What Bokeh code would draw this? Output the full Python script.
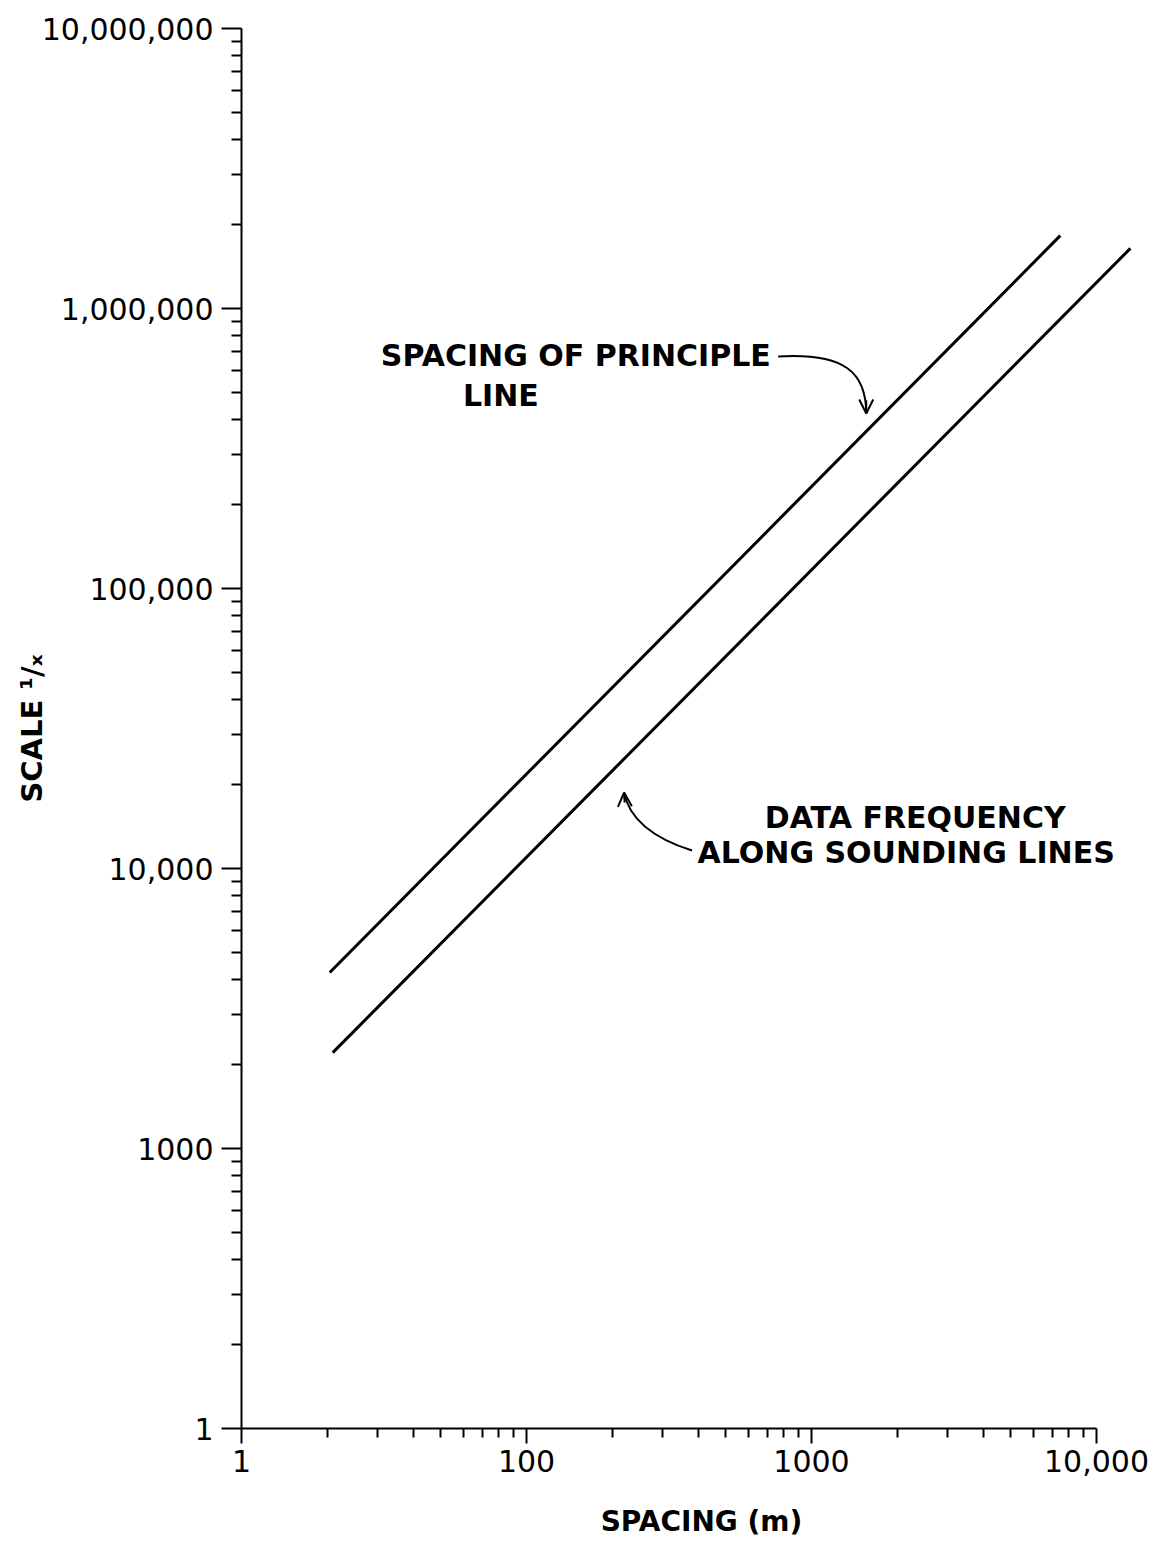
import math
from bokeh.plotting import figure
from bokeh.models import FixedTicker, Label, Arrow, OpenHead, Range1d
from bokeh.embed import file_html
from bokeh.resources import INLINE

# ---- data ----
x_ticks = [10, 100, 1000, 10000]
x_tick_labels = ["1", "100", "1000", "10,000"]
y_ticks = [1e2, 1e3, 1e4, 1e5, 1e6, 1e7]
y_tick_labels = ["1", "1000", "10,000", "100,000", "1,000,000", "10,000,000"]

principle_x = [20.4, 7460]
principle_y = [4250, 1820000]
frequency_x = [20.9, 13150]
frequency_y = [2200, 1640000]

# minor ticks 2..9 within each decade
x_minor = [m * d for d in x_ticks[:-1] for m in range(2, 10)]
y_minor = [m * d for d in y_ticks[:-1] for m in range(2, 10)]

# plotting area extends a little past the last x tick (axis bounded at 10,000)
x_end = 10 ** 4.228

p = figure(width=1161, height=1541, x_axis_type="log", y_axis_type="log",
           x_range=Range1d(10, x_end), y_range=Range1d(100, 1e7),
           output_backend="svg", toolbar_location=None,
           min_border_left=241, min_border_right=0,
           min_border_top=28, min_border_bottom=113)

p.background_fill_color = "white"
p.border_fill_color = "white"
p.outline_line_color = None
p.xgrid.grid_line_color = None
p.ygrid.grid_line_color = None

p.xaxis.ticker = FixedTicker(ticks=x_ticks, minor_ticks=x_minor)
p.yaxis.ticker = FixedTicker(ticks=y_ticks, minor_ticks=y_minor)
p.xaxis.major_label_overrides = {float(t): l for t, l in zip(x_ticks, x_tick_labels)}
p.yaxis.major_label_overrides = {float(t): l for t, l in zip(y_ticks, y_tick_labels)}
p.xaxis.bounds = (x_ticks[0], x_ticks[-1])

for ax in (p.xaxis, p.yaxis):
    ax.axis_line_width = 2
    ax.axis_line_color = "black"
    ax.major_tick_line_width = 2
    ax.minor_tick_line_width = 2
    ax.major_tick_line_color = "black"
    ax.minor_tick_line_color = "black"
    ax.major_tick_in = 0
    ax.minor_tick_in = 0
    ax.major_label_text_font = "DejaVu Sans"
    ax.major_label_text_font_size = "30px"
    ax.major_label_text_color = "black"
    ax.axis_label_text_font = "DejaVu Sans"
    ax.axis_label_text_font_style = "bold"
    ax.axis_label_text_color = "black"

p.xaxis.major_tick_out = 15
p.xaxis.minor_tick_out = 9
p.xaxis.major_label_standoff = 6
p.xaxis.axis_label = "SPACING (m)"
p.xaxis.axis_label_text_font_size = "28px"
p.xaxis.axis_label_standoff = 30

p.yaxis.major_tick_out = 20
p.yaxis.minor_tick_out = 10
p.yaxis.major_label_standoff = 8
p.yaxis.axis_label = "SCALE ¹/ₓ"
p.yaxis.axis_label_text_font_size = "29px"
p.yaxis.axis_label_standoff = -10

# ---- lines ----
p.line(principle_x, principle_y, line_color="black", line_width=3)
p.line(frequency_x, frequency_y, line_color="black", line_width=3)

# ---- annotations ----
def lab(x, y, text, size="30px", angle=0.0):
    p.add_layout(Label(x=x, y=y, text=text, text_font="DejaVu Sans",
                       text_font_size=size, text_font_style="bold",
                       text_color="black", text_align="center",
                       text_baseline="middle", angle=angle))

lab(149, 679000, "SPACING OF PRINCIPLE")
lab(81.3, 488700, "LINE")
lab(2312, 15200, "DATA FREQUENCY")
lab(2148, 11400, "ALONG SOUNDING LINES")

# curved arrows
p.bezier(x0=[764], y0=[674000], x1=[1556], y1=[421700],
         cx0=[1313], cy0=[696000], cx1=[1556], cy1=[590000],
         line_color="black", line_width=2)
p.add_layout(Arrow(end=OpenHead(size=14, line_width=2, line_color="black"),
                   x_start=1556, y_start=469000, x_end=1556, y_end=421700,
                   line_width=2, line_color="black"))

p.bezier(x0=[381], y0=[11590], x1=[220], y1=[18670],
         cx0=[260], cy0=[13120], cx1=[227], cy1=[15850],
         line_color="black", line_width=2)
p.add_layout(Arrow(end=OpenHead(size=14, line_width=2, line_color="black"),
                   x_start=221, y_start=17200, x_end=220, y_end=18670,
                   line_width=2, line_color="black"))

open("out.html", "w").write(file_html(p, INLINE))
